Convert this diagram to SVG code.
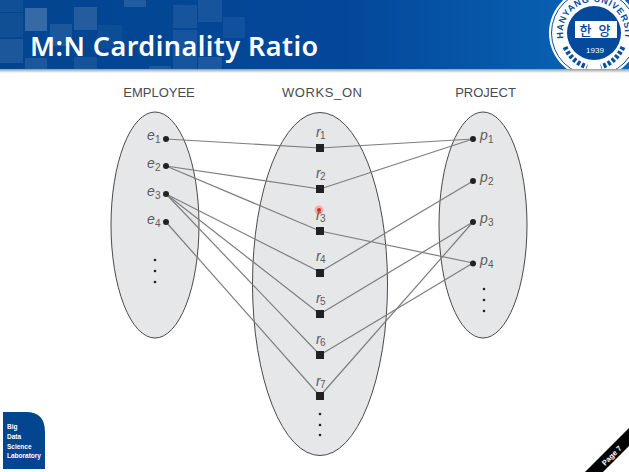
<svg xmlns="http://www.w3.org/2000/svg" width="629" height="472" viewBox="0 0 629 472">
<style>
.set{fill:#e6e7e9;stroke:#4a4a4a;stroke-width:1}
.h{font:13px "Liberation Sans",Arial,sans-serif;fill:#4a4a50}
.v{font:italic 14px "Liberation Sans",Arial,sans-serif;fill:#5c5c5c}
.s{font:10px "Liberation Sans",Arial,sans-serif;fill:#5c5c5c}
.d{fill:#222}
.l line{stroke:#7d7d7d;stroke-width:1.2}
.q{fill:#fff}
</style>
<defs>
<linearGradient id="hd" x1="0" x2="1" y1="0" y2="0"><stop offset="0" stop-color="#03458f"/><stop offset=".55" stop-color="#03479a"/><stop offset="1" stop-color="#0a67b8"/></linearGradient>
<linearGradient id="sh" x1="0" x2="0" y1="0" y2="1"><stop offset="0" stop-color="#999"/><stop offset="1" stop-color="#fff"/></linearGradient>
<clipPath id="hc"><rect width="629" height="69"/></clipPath>
<path id="arc" d="M563.500 38.400A31 31 0 1 1 624.500 38.400"/>
</defs>
<rect width="629" height="472" fill="#fff"/>
<g id="header">
<rect width="629" height="69" fill="url(#hd)"/>
<g class="q">
<rect x="25" y="8" width="22" height="23" opacity=".2"/>
<rect x="74" y="7" width="23" height="23" opacity=".13"/>
<rect x="0" y="0" width="23" height="12" opacity=".06"/>
<rect x="0" y="13" width="23" height="24" opacity=".06"/>
<rect x="0" y="39" width="23" height="24" opacity=".1"/>
<rect x="50" y="24" width="22" height="22" opacity=".1"/>
<rect x="25" y="58" width="22" height="11" opacity=".1"/>
<rect x="74" y="57" width="23" height="12" opacity=".08"/>
<rect x="98" y="25" width="24" height="24" opacity=".04"/>
<rect x="124" y="0" width="22" height="7" opacity=".12"/>
<rect x="173" y="5" width="24" height="23" opacity=".08"/>
<rect x="198" y="0" width="24" height="22" opacity=".08"/>
<rect x="173" y="30" width="24" height="39" opacity=".08"/>
<rect x="198" y="57" width="24" height="12" opacity=".1"/>
<rect x="223" y="17" width="22" height="21" opacity=".06"/>
<rect x="149" y="66" width="22" height="3" opacity=".1"/>
</g>
<rect y="69" width="629" height="4" fill="url(#sh)"/>
<text x="30" y="55.500" font-family="'Noto Sans','Open Sans',sans-serif" font-weight="600" font-size="27" letter-spacing=".45" fill="#fff">M:N Cardinality Ratio</text>
</g>
<g id="logo" clip-path="url(#hc)">
<circle cx="594" cy="33" r="45" fill="#fff"/>
<circle cx="594" cy="33" r="42.500" fill="none" stroke="#0a4f9e" stroke-width="1"/>
<path d="M565 47Q572 62 587 67M623 47Q616 62 601 67" fill="none" stroke="#0a4f9e" stroke-width="5" stroke-dasharray="3 2"/>
<circle cx="594" cy="33" r="27" fill="#04499c"/>
<text font-family="'Liberation Sans',sans-serif" font-weight="700" font-size="9" fill="#0a4f9e" letter-spacing=".8"><textPath href="#arc">HANYANG UNIVERSITY</textPath></text>
<rect x="575" y="21" width="42" height="17" fill="#fff"/>
<text x="596" y="35" text-anchor="middle" font-family="'Noto Sans CJK KR',sans-serif" font-weight="500" font-size="13" letter-spacing="2" fill="#04499c">한 양</text>
<text x="595" y="53" text-anchor="middle" font-family="'Liberation Sans',sans-serif" font-size="8" fill="#fff">1939</text>
</g>
<g id="badge">
<path d="M3 412H26Q45 412 45 432V469H3Z" fill="#03468f"/>
<g font-family="'Liberation Sans',sans-serif" font-weight="700" font-size="6.500" fill="#fff"><text x="7" y="429">Big</text><text x="7" y="439">Data</text><text x="7" y="449">Science</text><text x="7" y="458">Laboratory</text></g>
</g>
<g id="page">
<path d="M585 472L629 428V446L603 472Z" fill="#000"/>
<text transform="translate(605 466) rotate(-45)" font-family="'Liberation Sans',sans-serif" font-weight="700" font-size="7.500" fill="#fff">Page 7</text>
</g>
<text class="h" x="159" y="97" text-anchor="middle">EMPLOYEE</text>
<text class="h" x="322" y="97" text-anchor="middle" textLength="80">WORKS_ON</text>
<text class="h" x="485.500" y="97" text-anchor="middle">PROJECT</text>
<ellipse id="set-employee" class="set" cx="155" cy="225" rx="44" ry="113"/>
<ellipse id="set-works-on" class="set" cx="320" cy="284" rx="67.500" ry="171.500"/>
<ellipse id="set-project" class="set" cx="483" cy="225" rx="44" ry="113"/>
<g id="connectors" class="l">
<line x1="166" y1="139" x2="320" y2="148"/>
<line x1="166" y1="166" x2="320" y2="189"/>
<line x1="166" y1="166" x2="320" y2="231"/>
<line x1="166" y1="194" x2="320" y2="272"/>
<line x1="166" y1="194" x2="320" y2="314"/>
<line x1="166" y1="194" x2="320" y2="355"/>
<line x1="166" y1="222" x2="320" y2="396"/>
<line x1="320" y1="148" x2="473" y2="139"/>
<line x1="320" y1="189" x2="473" y2="139"/>
<line x1="320" y1="231" x2="473" y2="263"/>
<line x1="320" y1="272" x2="473" y2="181"/>
<line x1="320" y1="314" x2="473" y2="222"/>
<line x1="320" y1="355" x2="473" y2="263"/>
<line x1="320" y1="396" x2="473" y2="222"/>
</g>
<g id="e1"><circle class="d" cx="166" cy="139" r="3"/><text class="v" x="147" y="140">e</text><text class="s" x="155" y="143">1</text></g>
<g id="e2"><circle class="d" cx="166" cy="166" r="3"/><text class="v" x="147" y="168">e</text><text class="s" x="155" y="171">2</text></g>
<g id="e3"><circle class="d" cx="166" cy="194" r="3"/><text class="v" x="147" y="196">e</text><text class="s" x="155" y="199">3</text></g>
<g id="e4"><circle class="d" cx="166" cy="222" r="3"/><text class="v" x="147" y="224">e</text><text class="s" x="155" y="227">4</text></g>
<g id="e-more" class="d"><circle cx="155" cy="260" r="1.300"/><circle cx="155" cy="271" r="1.300"/><circle cx="155" cy="282" r="1.300"/></g>
<g id="r1"><rect class="d" x="316" y="144" width="8" height="8"/><text class="v" x="316" y="137">r</text><text class="s" x="320" y="139">1</text></g>
<g id="r2"><rect class="d" x="316" y="185" width="8" height="8"/><text class="v" x="316" y="178">r</text><text class="s" x="320" y="180">2</text></g>
<g id="r3"><rect class="d" x="316" y="227" width="8" height="8"/><text class="v" x="316" y="220">r</text><text class="s" x="320" y="222">3</text></g>
<g id="r4"><rect class="d" x="316" y="269" width="8" height="8"/><text class="v" x="316" y="261">r</text><text class="s" x="320" y="263">4</text></g>
<g id="r5"><rect class="d" x="316" y="310" width="8" height="8"/><text class="v" x="316" y="303">r</text><text class="s" x="320" y="305">5</text></g>
<g id="r6"><rect class="d" x="316" y="351" width="8" height="8"/><text class="v" x="316" y="344">r</text><text class="s" x="320" y="346">6</text></g>
<g id="r7"><rect class="d" x="316" y="392" width="8" height="8"/><text class="v" x="316" y="386">r</text><text class="s" x="320" y="388">7</text></g>
<g id="r-more" class="d"><circle cx="320" cy="414" r="1.300"/><circle cx="320" cy="425" r="1.300"/><circle cx="320" cy="435" r="1.300"/></g>
<g id="p1"><circle class="d" cx="473" cy="139" r="3"/><text class="v" x="480" y="140">p</text><text class="s" x="488" y="143">1</text></g>
<g id="p2"><circle class="d" cx="473" cy="181" r="3"/><text class="v" x="480" y="182">p</text><text class="s" x="488" y="185">2</text></g>
<g id="p3"><circle class="d" cx="473" cy="222" r="3"/><text class="v" x="480" y="223">p</text><text class="s" x="488" y="226">3</text></g>
<g id="p4"><circle class="d" cx="473" cy="263.500" r="3"/><text class="v" x="480" y="265">p</text><text class="s" x="488" y="268">4</text></g>
<g id="p-more" class="d"><circle cx="484" cy="289" r="1.300"/><circle cx="484" cy="300" r="1.300"/><circle cx="484" cy="311" r="1.300"/></g>
<g id="pointer"><circle cx="319" cy="210" r="4.500" fill="#ff4a3a" opacity=".35"/><circle cx="319" cy="210" r="2" fill="#f02020"/></g>
</svg>
